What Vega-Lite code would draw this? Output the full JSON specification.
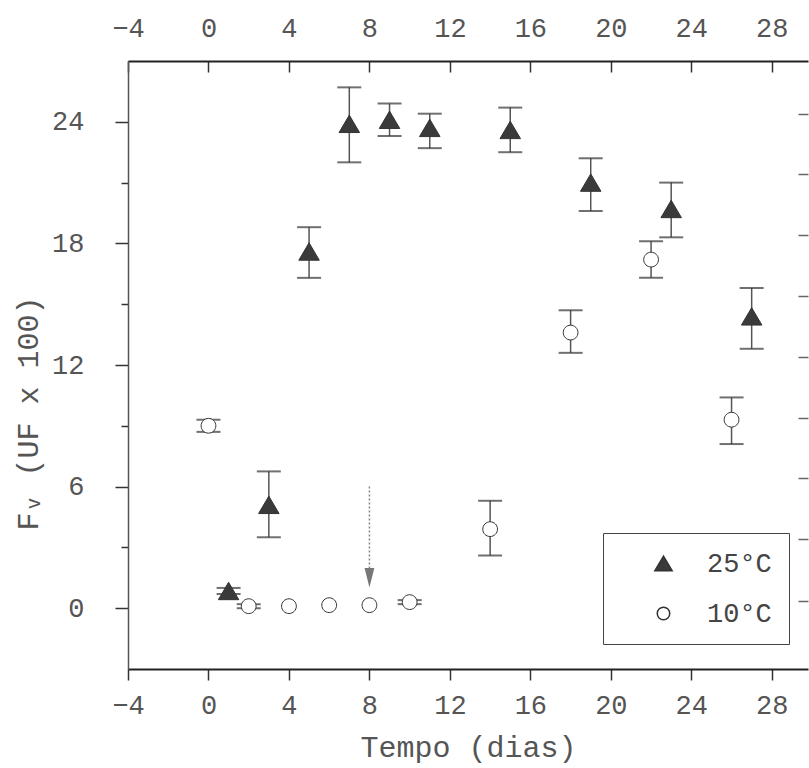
{
  "$schema": "https://vega.github.io/schema/vega-lite/v6.json",
  "width": 680,
  "height": 608,
  "autosize": {"type": "none"},
  "padding": {"left": 128, "top": 61, "right": 1, "bottom": 99},
  "background": "white",
  "config": {
    "view": {"stroke": null},
    "font": "Liberation Mono",
    "axis": {
      "labelFont": "Liberation Mono",
      "titleFont": "Liberation Mono",
      "labelColor": "#555",
      "titleColor": "#555",
      "labelFontSize": 27,
      "titleFontSize": 30,
      "titleFontWeight": "normal",
      "grid": false,
      "domainColor": "#222",
      "domainWidth": 1.8,
      "tickColor": "#333",
      "tickWidth": 1.5,
      "labelFlush": false,
      "labelOverlap": false
    },
    "legend": {
      "orient": "none",
      "legendX": 475,
      "legendY": 472,
      "padding": 17,
      "strokeColor": "#444",
      "fillColor": "white",
      "labelFont": "Liberation Mono",
      "labelFontSize": 27,
      "labelColor": "#444",
      "symbolSize": 300,
      "rowPadding": 22,
      "symbolOffset": 30,
      "labelOffset": 30
    }
  },
  "datasets": {
    "medidas": [
      {"serie": "25°C", "dia": 1, "fv": 0.85, "lo": 0.7, "hi": 1.0},
      {"serie": "25°C", "dia": 3, "fv": 5.1, "lo": 3.5, "hi": 6.75},
      {"serie": "25°C", "dia": 5, "fv": 17.6, "lo": 16.3, "hi": 18.8},
      {"serie": "25°C", "dia": 7, "fv": 23.9, "lo": 22.0, "hi": 25.7},
      {"serie": "25°C", "dia": 9, "fv": 24.1, "lo": 23.3, "hi": 24.9},
      {"serie": "25°C", "dia": 11, "fv": 23.7, "lo": 22.7, "hi": 24.4},
      {"serie": "25°C", "dia": 15, "fv": 23.6, "lo": 22.5, "hi": 24.7},
      {"serie": "25°C", "dia": 19, "fv": 21.0, "lo": 19.6, "hi": 22.2},
      {"serie": "25°C", "dia": 23, "fv": 19.7, "lo": 18.3, "hi": 21.0},
      {"serie": "25°C", "dia": 27, "fv": 14.4, "lo": 12.8, "hi": 15.8},
      {"serie": "10°C", "dia": 0, "fv": 9.0, "lo": 8.7, "hi": 9.3},
      {"serie": "10°C", "dia": 2, "fv": 0.1, "lo": 0.0, "hi": 0.2},
      {"serie": "10°C", "dia": 4, "fv": 0.1, "lo": null, "hi": null},
      {"serie": "10°C", "dia": 6, "fv": 0.15, "lo": null, "hi": null},
      {"serie": "10°C", "dia": 8, "fv": 0.15, "lo": null, "hi": null},
      {"serie": "10°C", "dia": 10, "fv": 0.3, "lo": 0.2, "hi": 0.4},
      {"serie": "10°C", "dia": 14, "fv": 3.9, "lo": 2.6, "hi": 5.3},
      {"serie": "10°C", "dia": 18, "fv": 13.6, "lo": 12.6, "hi": 14.7},
      {"serie": "10°C", "dia": 22, "fv": 17.2, "lo": 16.3, "hi": 18.1},
      {"serie": "10°C", "dia": 26, "fv": 9.3, "lo": 8.1, "hi": 10.4}
    ],
    "seta": [
      {"dia": 8, "inicio": 6.0, "fim": 1.6, "ponta": 1.5}
    ]
  },
  "layer": [
    {
      "data": {"name": "medidas"},
      "mark": {"type": "rule", "color": "#555", "strokeWidth": 1.5},
      "encoding": {
        "x": {
          "field": "dia", "type": "quantitative",
          "scale": {"domain": [-4, 29.8], "nice": false, "zero": false},
          "axis": {
            "orient": "bottom",
            "values": [-4, 0, 4, 8, 12, 16, 20, 24, 28],
            "tickSize": 11,
            "labelPadding": 12,
            "title": "Tempo (dias)",
            "titlePadding": 14,
            "domainWidth": 2
          }
        },
        "y": {
          "field": "lo", "type": "quantitative",
          "scale": {"domain": [-3, 27], "nice": false, "zero": false},
          "axis": {
            "orient": "left",
            "values": [0, 3, 6, 9, 12, 15, 18, 21, 24],
            "tickSize": {"condition": {"test": "datum.value % 6 === 0", "value": 13}, "value": 7},
            "labelExpr": "datum.value % 6 === 0 ? datum.label : ''",
            "labelPadding": 31,
            "domainColor": "#555",
            "domainWidth": 1.5,
            "title": "Fᵥ (UF x 100)",
            "titleX": -100,
            "titleY": 352,
            "titleAngle": -90,
            "titleAlign": "center",
            "titleBaseline": "middle"
          }
        },
        "y2": {"field": "hi"}
      }
    },
    {
      "data": {"name": "medidas"},
      "mark": {"type": "tick", "orient": "horizontal", "size": 24, "thickness": 2, "color": "#333"},
      "encoding": {
        "x": {
          "field": "dia", "type": "quantitative",
          "axis": {
            "orient": "top",
            "values": [-4, 0, 4, 8, 12, 16, 20, 24, 28],
            "tickSize": -11,
            "labelPadding": 30,
            "title": null,
            "domainWidth": 2.2
          }
        },
        "y": {
          "field": "lo", "type": "quantitative",
          "axis": {
            "orient": "right",
            "values": [0.35, 3.4, 6.4, 9.4, 12.4, 15.4, 18.4, 21.4, 24.4],
            "labels": false,
            "domain": false,
            "tickSize": -10,
            "tickColor": "#666",
            "title": null
          }
        }
      }
    },
    {
      "data": {"name": "medidas"},
      "mark": {"type": "tick", "orient": "horizontal", "size": 24, "thickness": 2, "color": "#333"},
      "encoding": {
        "x": {"field": "dia", "type": "quantitative", "axis": null},
        "y": {"field": "hi", "type": "quantitative", "axis": null}
      }
    },
    {
      "data": {"name": "seta"},
      "mark": {"type": "rule", "color": "#888", "strokeWidth": 1.5, "strokeDash": [2, 2]},
      "encoding": {
        "x": {"field": "dia", "type": "quantitative", "axis": null},
        "y": {"field": "inicio", "type": "quantitative", "axis": null},
        "y2": {"field": "fim"}
      }
    },
    {
      "data": {"name": "seta"},
      "mark": {"type": "point", "filled": true, "color": "#777", "shape": "M-0.5,-1L0.5,-1L0,1Z", "size": 380, "opacity": 1},
      "encoding": {
        "x": {"field": "dia", "type": "quantitative", "axis": null},
        "y": {"field": "ponta", "type": "quantitative", "axis": null}
      }
    },
    {
      "data": {"name": "medidas"},
      "mark": {"type": "point", "filled": true, "stroke": "#333", "strokeWidth": 1, "opacity": 1, "size": 420},
      "encoding": {
        "x": {"field": "dia", "type": "quantitative", "axis": null},
        "y": {"field": "fv", "type": "quantitative", "axis": null},
        "shape": {
          "field": "serie", "type": "nominal",
          "scale": {
            "domain": ["25°C", "10°C"],
            "range": ["M0,-0.85L1,0.85L-1,0.85Z", "M0.72,0A0.72,0.72,0,1,1,-0.72,0A0.72,0.72,0,1,1,0.72,0Z"]
          },
          "legend": {
            "title": null,
            "encode": {
              "symbols": {
                "update": {
                  "stroke": {"value": "#333"},
                  "strokeWidth": {"value": 1},
                  "opacity": {"value": 1}
                }
              }
            }
          }
        },
        "fill": {
          "field": "serie", "type": "nominal",
          "scale": {"domain": ["25°C", "10°C"], "range": ["#3a3a3a", "#ffffff"]},
          "legend": {"title": null}
        }
      }
    }
  ],
  "resolve": {"axis": {"x": "independent", "y": "independent"}}
}
